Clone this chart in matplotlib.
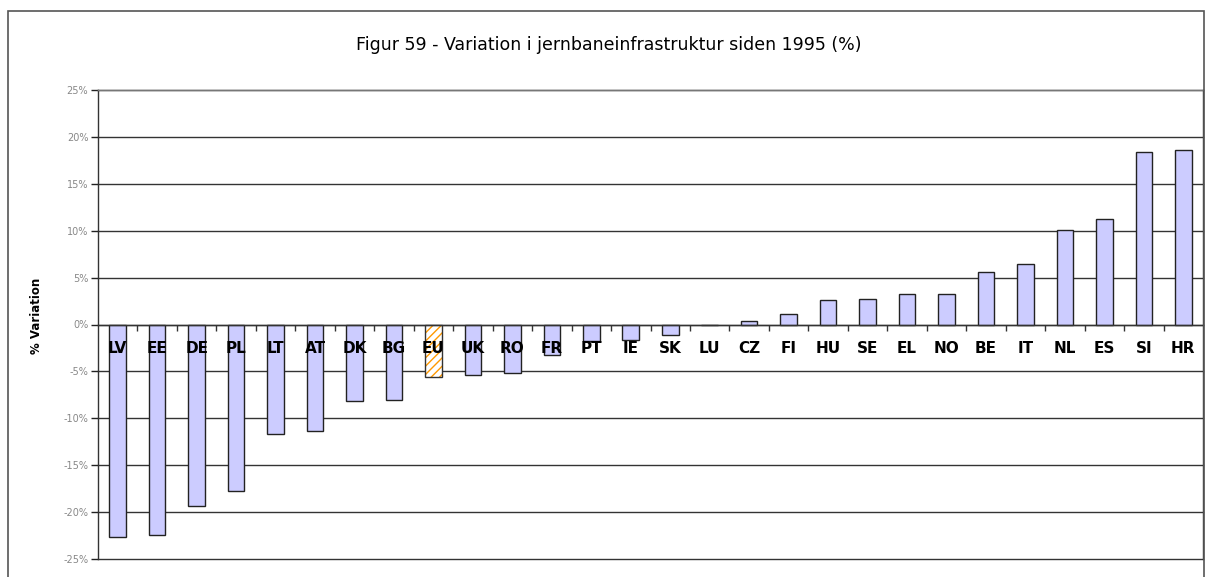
import matplotlib.pyplot as plt
from matplotlib.patches import Rectangle
from matplotlib.ticker import FixedLocator, FuncFormatter

# Data (% variation in rail infrastructure since 1995)
landen = ["LV", "EE", "DE", "PL", "LT", "AT", "DK", "BG", "EU", "UK", "RO", "FR", "PT", "IE",
          "SK", "LU", "CZ", "FI", "HU", "SE", "EL", "NO", "BE", "IT", "NL", "ES", "SI", "HR"]
variation = [-22.7, -22.4, -19.4, -17.7, -11.7, -11.4, -8.2, -8.0, -5.6, -5.4, -5.2, -3.3, -1.8, -1.7,
             -1.1, 0.0, 0.4, 1.1, 2.6, 2.7, 3.3, 3.3, 5.6, 6.5, 10.1, 11.3, 18.4, 18.6]
y_ticks = [-25, -20, -15, -10, -5, 0, 5, 10, 15, 20, 25]

W, H = 1206, 577
fig = plt.figure(figsize=(W / 100, H / 100), dpi=100)
ax = fig.add_axes([98 / W, 1 - 559 / H, (1203 - 98) / W, (559 - 90) / H])

# outer chart border
fig.patches.append(Rectangle((8 / W, -0.05), (1204 - 8) / W, 1 - 11 / H + 0.05,
                             transform=fig.transFigure, fill=False, edgecolor="#555555", lw=1.2))

x = list(range(len(landen)))
for i, (land, v) in enumerate(zip(landen, variation)):
    if land == "EU":
        b = ax.bar(i, v, width=0.42, color="white", edgecolor="#333333", hatch="////", lw=1, zorder=2)
        b[0]._hatch_color = (1.0, 0.6, 0.0, 1.0)
    else:
        ax.bar(i, v, width=0.42, color="#CCCCFF", edgecolor="#222222", lw=1, zorder=2)

    # landekoder over søjlerne
    ax.text(i, -2.6, land, ha="center", va="center", fontsize=11, fontweight="bold",
            color="black", zorder=5)

ax.set_xlim(-0.5, len(landen) - 0.5)
ax.set_ylim(-25, 25)
ax.set_yticks(y_ticks)
ax.yaxis.set_major_formatter(FuncFormatter(lambda v, p: f"{int(v)}%"))
ax.tick_params(axis="y", labelsize=7, colors="#222222", labelcolor="#888888", length=5, width=1, pad=2)
for t in y_ticks:
    ax.axhline(t, color="#333333", lw=1, zorder=1, clip_on=False)

ax.spines["bottom"].set_position(("data", 0))
for s in ax.spines.values():
    s.set_color("#333333")
    s.set_linewidth(1)
    s.set_zorder(3)
ax.spines["top"].set_color("#777777")

ax.set_xticks(x)
ax.set_xticklabels([])
ax.xaxis.set_minor_locator(FixedLocator([i + 0.5 for i in x[:-1]]))
ax.tick_params(axis="x", which="major", length=0)
ax.tick_params(axis="x", which="minor", length=4, width=1, direction="out", colors="#333333")

fig.text(609 / W, 1 - 45 / H, "Figur 59 - Variation i jernbaneinfrastruktur siden 1995 (%)",
         ha="center", va="center", fontsize=12.5)
fig.text(37 / W, 1 - 316 / H, "% Variation", rotation=90, ha="center", va="center",
         fontsize=8.5, fontweight="bold")

fig.savefig("out.png", dpi=100)
